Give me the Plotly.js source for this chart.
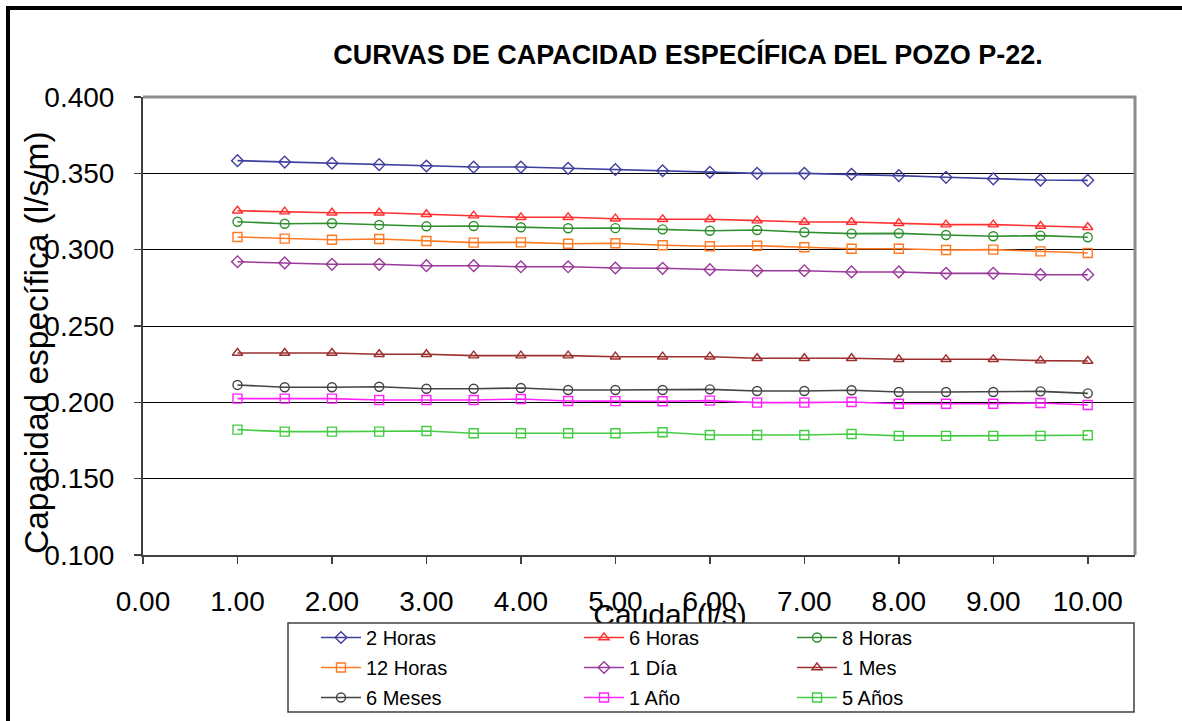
<!DOCTYPE html>
<html>
<head>
<meta charset="utf-8">
<script src="https://cdn.plot.ly/plotly-3.0.1.min.js"></script>
<style>html,body{margin:0;padding:0;background:#fff;}#chart{width:1182px;height:721px;}</style>
</head>
<body>
<div id="chart"></div>
<script>
const caudal = [1.0,1.5,2.0,2.5,3.0,3.5,4.0,4.5,5.0,5.5,6.0,6.5,7.0,7.5,8.0,8.5,9.0,9.5,10.0];
const seriesNames = ["2 Horas","6 Horas","8 Horas","12 Horas","1 Día","1 Mes","6 Meses","1 Año","5 Años"];
const h2  = [0.3583,0.3574,0.3566,0.3557,0.3548,0.3541,0.3541,0.3533,0.3525,0.3517,0.3507,0.3500,0.3500,0.3494,0.3485,0.3474,0.3464,0.3456,0.3454];
const h6  = [0.3255,0.3249,0.3242,0.3242,0.3232,0.3223,0.3212,0.3212,0.3203,0.3199,0.3199,0.3190,0.3181,0.3181,0.3173,0.3164,0.3164,0.3155,0.3147];
const h8  = [0.3183,0.3170,0.3173,0.3162,0.3153,0.3155,0.3147,0.3140,0.3141,0.3133,0.3124,0.3129,0.3114,0.3105,0.3107,0.3096,0.3088,0.3092,0.3081];
const h12 = [0.3083,0.3072,0.3065,0.3070,0.3057,0.3046,0.3048,0.3039,0.3042,0.3029,0.3022,0.3026,0.3016,0.3006,0.3006,0.2998,0.3000,0.2989,0.2978];
const d1  = [0.2921,0.2913,0.2904,0.2904,0.2895,0.2895,0.2888,0.2888,0.2880,0.2878,0.2869,0.2862,0.2862,0.2854,0.2854,0.2845,0.2845,0.2836,0.2836];
const m1  = [0.2323,0.2323,0.2323,0.2315,0.2315,0.2306,0.2306,0.2306,0.2299,0.2299,0.2299,0.2289,0.2289,0.2289,0.2282,0.2282,0.2282,0.2273,0.2271];
const m6  = [0.2114,0.2099,0.2099,0.2102,0.2089,0.2089,0.2094,0.2081,0.2081,0.2081,0.2085,0.2074,0.2074,0.2079,0.2068,0.2068,0.2068,0.2072,0.2059];
const a1  = [0.2024,0.2024,0.2024,0.2015,0.2015,0.2015,0.2022,0.2009,0.2008,0.2007,0.2011,0.1998,0.1998,0.2002,0.1991,0.1991,0.1991,0.1996,0.1983];
const a5  = [0.1821,0.1808,0.1808,0.1808,0.1812,0.1797,0.1797,0.1797,0.1797,0.1804,0.1786,0.1786,0.1786,0.1793,0.1780,0.1780,0.1780,0.1780,0.1784];

const values = [h2,h6,h8,h12,d1,m1,m6,a1,a5];
const colors = ["#3f3f9f","#ff3030","#2f8f2f","#ff7a22","#9a3a9a","#9c2f2f","#444444","#ff22ff","#44cc44"];
const symbols = ["diamond-open","triangle-up-open","circle-open","square-open","diamond-open","triangle-up-open","circle-open","square-open","square-open"];
const sizes = [9,9,9,9,9,9,9,9,9];
const legendIds = ["legend","legend2","legend3","legend","legend2","legend3","legend","legend2","legend3"];

const FONT = "Liberation Sans, Arial, sans-serif";
const traces = values.map((v,i)=>({
  type:"scatter", mode:"lines+markers", name:seriesNames[i],
  x:caudal, y:v,
  line:{color:colors[i], width:1.6},
  marker:{symbol:symbols[i], size:sizes[i], color:colors[i], line:{width:1.4, color:colors[i]}},
  legend:legendIds[i], legendgroup:"g"+i
}));

// pixel helpers for paper coords (plot area: x 143..1135, y 97..555)
const L=143, R=1135, T=97, B=555;
const px = x => (x-L)/(R-L);
const py = y => (B-y)/(B-T);

const legStyle = (x)=>({
  x:px(x), y:py(618), xanchor:"left", yanchor:"top", orientation:"v",
  bgcolor:"rgba(0,0,0,0)", borderwidth:0, font:{family:FONT,size:20,color:"#000"},
  traceorder:"grouped", tracegroupgap:1, itemwidth:40
});

const layout = {
  width:1182, height:721,
  paper_bgcolor:"#fff", plot_bgcolor:"#fff",
  margin:{l:L, r:1182-R, t:T, b:721-B, autoexpand:false},
  showlegend:true,
  title:{text:"CURVAS DE CAPACIDAD ESPECÍFICA DEL POZO P-22.", font:{family:FONT, size:27, color:"#000", weight:"bold"},
         x:px(688), xref:"paper", xanchor:"center", y:1-55/721, yanchor:"middle"},
  xaxis:{range:[0,10.5], tick0:0, dtick:1, tickformat:".2f", showgrid:false, zeroline:false,
         showline:true, linecolor:"#404040", linewidth:2, ticks:"outside", ticklen:7, tickcolor:"#404040", tickwidth:1.5,
         tickfont:{family:FONT, size:28, color:"#000"}, ticklabelstandoff:13, automargin:false},
  yaxis:{range:[0.1,0.4], tick0:0.1, dtick:0.05, tickformat:".3f", showgrid:true, gridcolor:"#000", gridwidth:1, zeroline:false,
         showline:true, linecolor:"#404040", linewidth:2, ticks:"outside", ticklen:7, tickcolor:"#404040", tickwidth:1.5,
         tickfont:{family:FONT, size:28, color:"#000"}, ticklabelstandoff:14, automargin:false},
  legend:legStyle(316),
  legend2:legStyle(579),
  legend3:legStyle(792),
  shapes:[
    {type:"path", xref:"paper", yref:"paper", path:`M0,1 L1,1 L1,0`, line:{color:"#8c8c8c", width:3}, layer:"above"},
    // x-axis title, partly covered by the legend box as in the original
    {type:"rect", xref:"paper", yref:"paper", x0:px(560), x1:px(780), y0:py(627), y1:py(595),
     line:{width:0, color:"rgba(0,0,0,0)"}, fillcolor:"rgba(0,0,0,0)", layer:"above",
     label:{text:"Caudal (l/s)", textposition:"middle center", font:{family:FONT, size:30, color:"#000"}}},
    {type:"rect", xref:"paper", yref:"paper", x0:px(288), x1:px(1134), y0:py(712), y1:py(623), line:{color:"#404040", width:1.5}, fillcolor:"#fff", layer:"above"},
    {type:"line", xref:"paper", yref:"paper", x0:px(6), x1:px(1190), y0:py(8), y1:py(8), line:{color:"#000", width:4}},
    {type:"line", xref:"paper", yref:"paper", x0:px(8), x1:px(8), y0:py(6), y1:py(730), line:{color:"#000", width:4}}
  ],
  annotations:[
    {text:"Capacidad específica (l/s/m)", xref:"paper", yref:"paper", x:px(36), y:py(343), xanchor:"center", yanchor:"middle",
     textangle:-90, showarrow:false, font:{family:FONT, size:33.5, color:"#000"}}
  ]
};

Plotly.newPlot("chart", traces, layout, {displayModeBar:false, staticPlot:true});
</script>
</body>
</html>
